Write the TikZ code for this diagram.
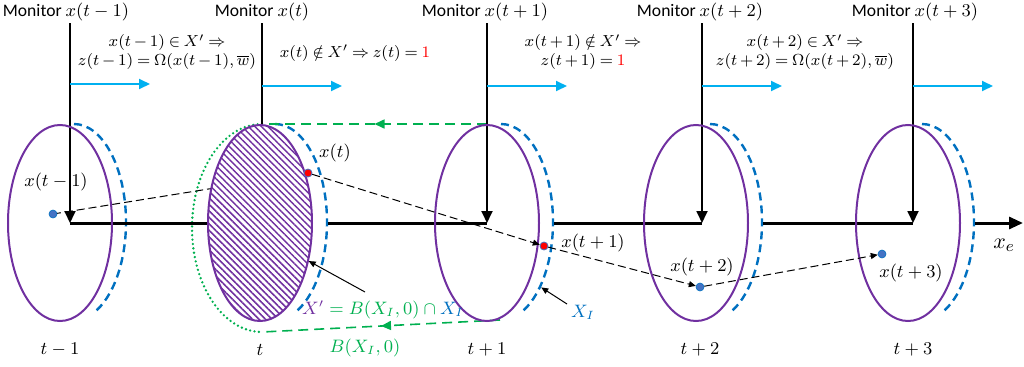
\documentclass[tikz,border=0pt]{standalone}
\usepackage{amsmath}
\usepackage[no-math]{fontspec}
\setmainfont{Carlito}
\usepackage{tikz}
\usetikzlibrary{shapes.geometric, arrows.meta, patterns.meta, decorations.markings}
\definecolor{setpurple}{HTML}{7030A0}
\definecolor{rimblue}{HTML}{0070C0}
\definecolor{stepcyan}{HTML}{00B0F0}
\definecolor{ballgreen}{HTML}{00B050}
\definecolor{dotblue}{HTML}{4472C4}
\newcommand{\condfont}{\fontsize{8}{9.5}\selectfont\thickmuskip=4mu\relax\medmuskip=3mu\relax}
\tikzstyle{every node}=[font=\fontsize{8.8}{9.5}\selectfont, inner sep=1pt]
\tikzstyle{cond}=[align=center,font=\condfont]
\tikzstyle{slice}=[ellipse,draw=setpurple,line width=1pt,minimum width=52pt,minimum height=98pt,inner sep=0pt]
\tikzstyle{rim}=[draw=rimblue,line width=1.2pt,dash pattern=on 4pt off 2.5pt]
\tikzstyle{xaxis}=[draw=black,line width=1.5pt]
\tikzstyle{monitor}=[draw=black,line width=0.9pt,-{Triangle[length=6pt,width=5.5pt]}]
\tikzstyle{nextarr}=[draw=stepcyan,line width=1pt,-{Triangle[length=5.5pt,width=5pt]}]
\tikzstyle{traj}=[draw=black,line width=0.5pt,dash pattern=on 4pt off 2pt,-{Triangle[length=3.5pt,width=3pt]}]
\tikzstyle{pointer}=[draw=black,line width=0.5pt,-{Triangle[length=3.5pt,width=3pt]}]
\tikzstyle{ball}=[draw=ballgreen,line width=0.8pt,dash pattern=on 5pt off 3pt,postaction={decorate},
    decoration={markings,mark=at position 0.5 with {\arrow{Triangle[length=5pt,width=4.5pt]}}}]
\tikzstyle{bluedot}=[circle,fill=dotblue,draw=rimblue,line width=0.3pt,minimum size=4pt,inner sep=0pt]
\tikzstyle{reddot}=[circle,fill=red,draw=dotblue,line width=0.4pt,minimum size=4pt,inner sep=0pt]
\newcommand{\wbar}{\overline{w}}

\begin{document}
\begin{tikzpicture}[x=0.5pt,y=0.5pt]
    \useasboundingbox (0,0) rectangle (1024,366);
    % points on the axis under each monitor
    \coordinate (c0) at (70,143);
    \coordinate (c1) at (262,143);
    \coordinate (c2) at (487,143);
    \coordinate (c3) at (702,143);
    \coordinate (c4) at (913,143);
    \coordinate (w1) at (208,143);
    \coordinate (xend) at (1023,143);
    % next-step arrows
    \coordinate (a0) at (70,282);  \coordinate (b0) at (150,282);
    \coordinate (a1) at (262,280); \coordinate (b1) at (342,280);
    \coordinate (a2) at (487,280); \coordinate (b2) at (567,280);
    \coordinate (a3) at (702,280); \coordinate (b3) at (782,280);
    \coordinate (a4) at (913,280); \coordinate (b4) at (993,280);
    % states
    \coordinate (p0) at (53,152);
    \coordinate (p1) at (308,193);
    \coordinate (p2) at (544,120);
    \coordinate (p3) at (700,79);
    \coordinate (p4) at (882,112);
    % ball B(X_I,0)
    \coordinate (gtop) at (262,242);
    \coordinate (gbot) at (262,34);
    \coordinate (gend) at (500,46);

    % X_I outlines
    \node[slice,draw=none] (r0) at (74,143) {};
    \node[slice,draw=none] (r1) at (275,143) {};
    \node[slice,draw=none] (r2) at (501,143) {};
    \node[slice,draw=none] (r3) at (710,143) {};
    \node[slice,draw=none] (r4) at (922,143) {};
    \draw[rim] (r0.north) arc[start angle=90,end angle=-68,x radius=26pt,y radius=49pt];
    \draw[rim] (r1.north) arc[start angle=90,end angle=-68,x radius=26pt,y radius=49pt];
    \draw[rim] (r2.north) arc[start angle=90,end angle=-68,x radius=26pt,y radius=49pt];
    \draw[rim] (r3.north) arc[start angle=90,end angle=-68,x radius=26pt,y radius=49pt];
    \draw[rim] (r4.north) arc[start angle=90,end angle=-68,x radius=26pt,y radius=49pt];

    \draw[ballgreen,line width=1.3pt,line cap=round,dash pattern=on 0pt off 2.2pt]
        (gtop) arc[start angle=90,end angle=270,x radius=35pt,y radius=52pt];
    \draw[ball] (c2 |- gtop) -- (gtop);
    \draw[ball] (gend) -- (gbot);

    \draw[xaxis] (c0) -- (w1);
    \draw[xaxis] (r1.east) -- (c2);
    \draw[xaxis] (r2.east) -- (c3);
    \draw[xaxis] (r3.east) -- (c4);
    \draw[xaxis,-{Triangle[length=7pt,width=6pt]}] (r4.east) -- (xend);

    \node (mon0) at (66,354) {Monitor $x(t-1)$};
    \node (mon1) at (262,354) {Monitor $x(t)$};
    \node (mon2) at (485,354) {Monitor $x(t+1)$};
    \node (mon3) at (700,354) {Monitor $x(t+2)$};
    \node (mon4) at (915,354) {Monitor $x(t+3)$};
    \draw[monitor] (mon0.south -| c0) -- (c0);
    \draw[monitor] (mon1.south -| c1) -- (c1);
    \draw[monitor] (mon2.south -| c2) -- (c2);
    \draw[monitor] (mon3.south -| c3) -- (c3);
    \draw[monitor] (mon4.south -| c4) -- (c4);
    \draw[nextarr] (a0) -- (b0);
    \draw[nextarr] (a1) -- (b1);
    \draw[nextarr] (a2) -- (b2);
    \draw[nextarr] (a3) -- (b3);
    \draw[nextarr] (a4) -- (b4);

    \draw[traj,shorten >=2pt] (p0) -- (p1);

    % time slices
    \node[slice] (e0) at (60,143) {};
    \node[slice] (e2) at (487,143) {};
    \node[slice] (e3) at (696,143) {};
    \node[slice] (e4) at (908,143) {};
    \node[slice,preaction={fill=white},pattern={Lines[angle=-45,distance=2.3pt,line width=0.75pt]},
        pattern color=setpurple] (e1) at (260,143) {};

    \node[bluedot] (d0) at (p0) {};
    \node[reddot] (d1) at (p1) {};
    \node[reddot] (d2) at (p2) {};
    \node[bluedot] (d3) at (p3) {};
    \node[bluedot] (d4) at (p4) {};
    \draw[traj] (d1) -- (d2);
    \draw[traj] (d2) -- (d3);
    \draw[traj] (d3) -- (d4);

    \node (lx0) at (56,184) {$x(t-1)$};
    \node (lx1) at (335,213) {$x(t)$};
    \node (lx2) at (593,123) {$x(t+1)$};
    \node (lx3) at (702,99) {$x(t+2)$};
    \node (lx4) at (911,93) {$x(t+3)$};
    \node[font=\fontsize{11}{12}\selectfont] (xe) at (1004,121) {$x_e$};

    \node[cond] (cond0) at (167,314) {$x(t-1)\in X'\Rightarrow$\\$z(t-1)=\Omega(x(t-1),\wbar)$};
    \node[cond] (cond1) at (355,313) {$x(t)\notin X'\Rightarrow z(t)=\textcolor{red}{1}$};
    \node[cond] (cond2) at (583,314) {$x(t+1)\notin X'\Rightarrow$\\$z(t+1)=\textcolor{red}{1}$};
    \node[cond] (cond3) at (805,314) {$x(t+2)\in X'\Rightarrow$\\$z(t+2)=\Omega(x(t+2),\wbar)$};

    \node (sx) at (383,56) {$\color{setpurple}X'\color{ballgreen}=B(X_I,0)\cap\color{rimblue}X_I$};
    \node (bx) at (365,18) {$\color{ballgreen}B(X_I,0)$};
    \node (xi) at (583,54) {$\color{rimblue}X_I$};
    \coordinate (q1) at (365,74);
    \coordinate (q2) at (567,62);
    \draw[pointer] (q1) -- (e1.-38);
    \draw[pointer] (q2) -- (r2.-58);

    \node (lt0) at (60,16) {$t-1$};
    \node (lt1) at (260,16) {$t$};
    \node (lt2) at (487,16) {$t+1$};
    \node (lt3) at (700,16) {$t+2$};
    \node (lt4) at (913,16) {$t+3$};
\end{tikzpicture}
\end{document}
